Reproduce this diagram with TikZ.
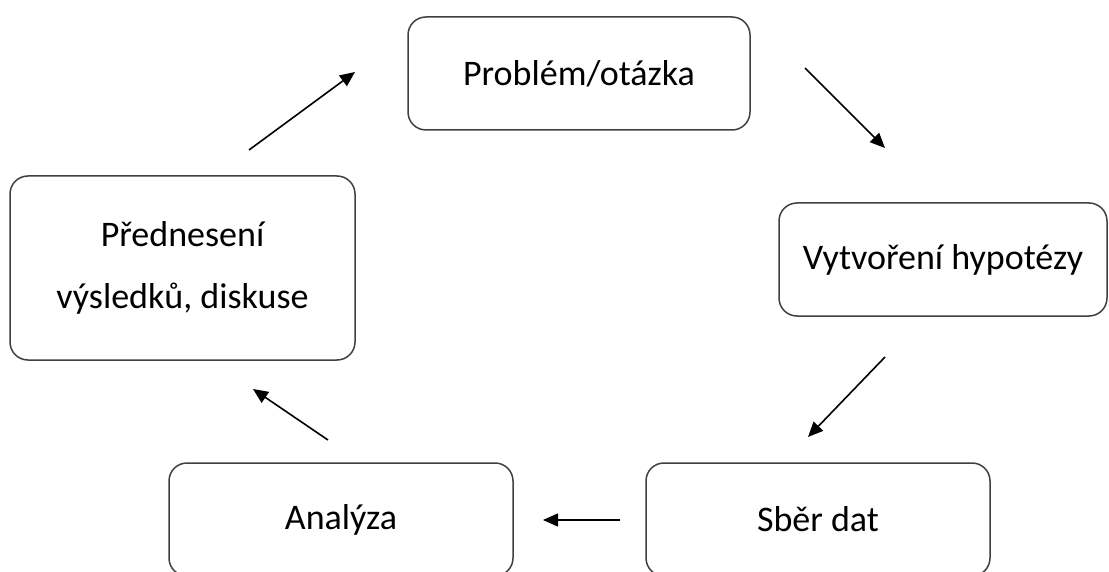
\documentclass[tikz,border=0pt]{standalone}
\usepackage{fontspec}
\setmainfont{Carlito}
\usetikzlibrary{arrows.meta}
\begin{document}
\begin{tikzpicture}[x=1pt,y=-1pt,
  stepbox/.style={draw=black!75, line width=1.5pt, rounded corners=18pt, inner sep=0pt, align=center, font=\fontsize{36}{62}\selectfont},
  conn/.style={line width=1.6pt, -{Triangle[length=15pt,width=13pt]}}]
\useasboundingbox (0,0) rectangle (1109,572);
\clip (0,0) rectangle (1109,572);
\node[stepbox, minimum width=342pt, minimum height=113pt] (p) at (579,73.5) {Problém/otázka};
\node[stepbox, minimum width=328pt, minimum height=113pt] (v) at (943,259.5) {Vytvoření hypotézy};
\node[stepbox, minimum width=345pt, minimum height=184pt] (d) at (182.5,268) {Přednesení\\výsledků, diskuse};
\node[stepbox, minimum width=344pt, minimum height=113pt] (a) at (341,519.5) {Analýza};
\node[stepbox, minimum width=344pt, minimum height=113pt] (s) at (818,519.5) {Sběr dat};
\coordinate (d1) at (249,150); \coordinate (d2) at (355,72);
\coordinate (p1) at (805,68); \coordinate (p2) at (885,148);
\coordinate (v1) at (885,357); \coordinate (v2) at (808,437);
\coordinate (s1) at (620,520); \coordinate (s2) at (543,520);
\coordinate (a1) at (328,440); \coordinate (a2) at (253,389);
\draw[conn] (d1) -- (d2);
\draw[conn] (p1) -- (p2);
\draw[conn] (v1) -- (v2);
\draw[conn] (s1) -- (s2);
\draw[conn] (a1) -- (a2);
\end{tikzpicture}
\end{document}
